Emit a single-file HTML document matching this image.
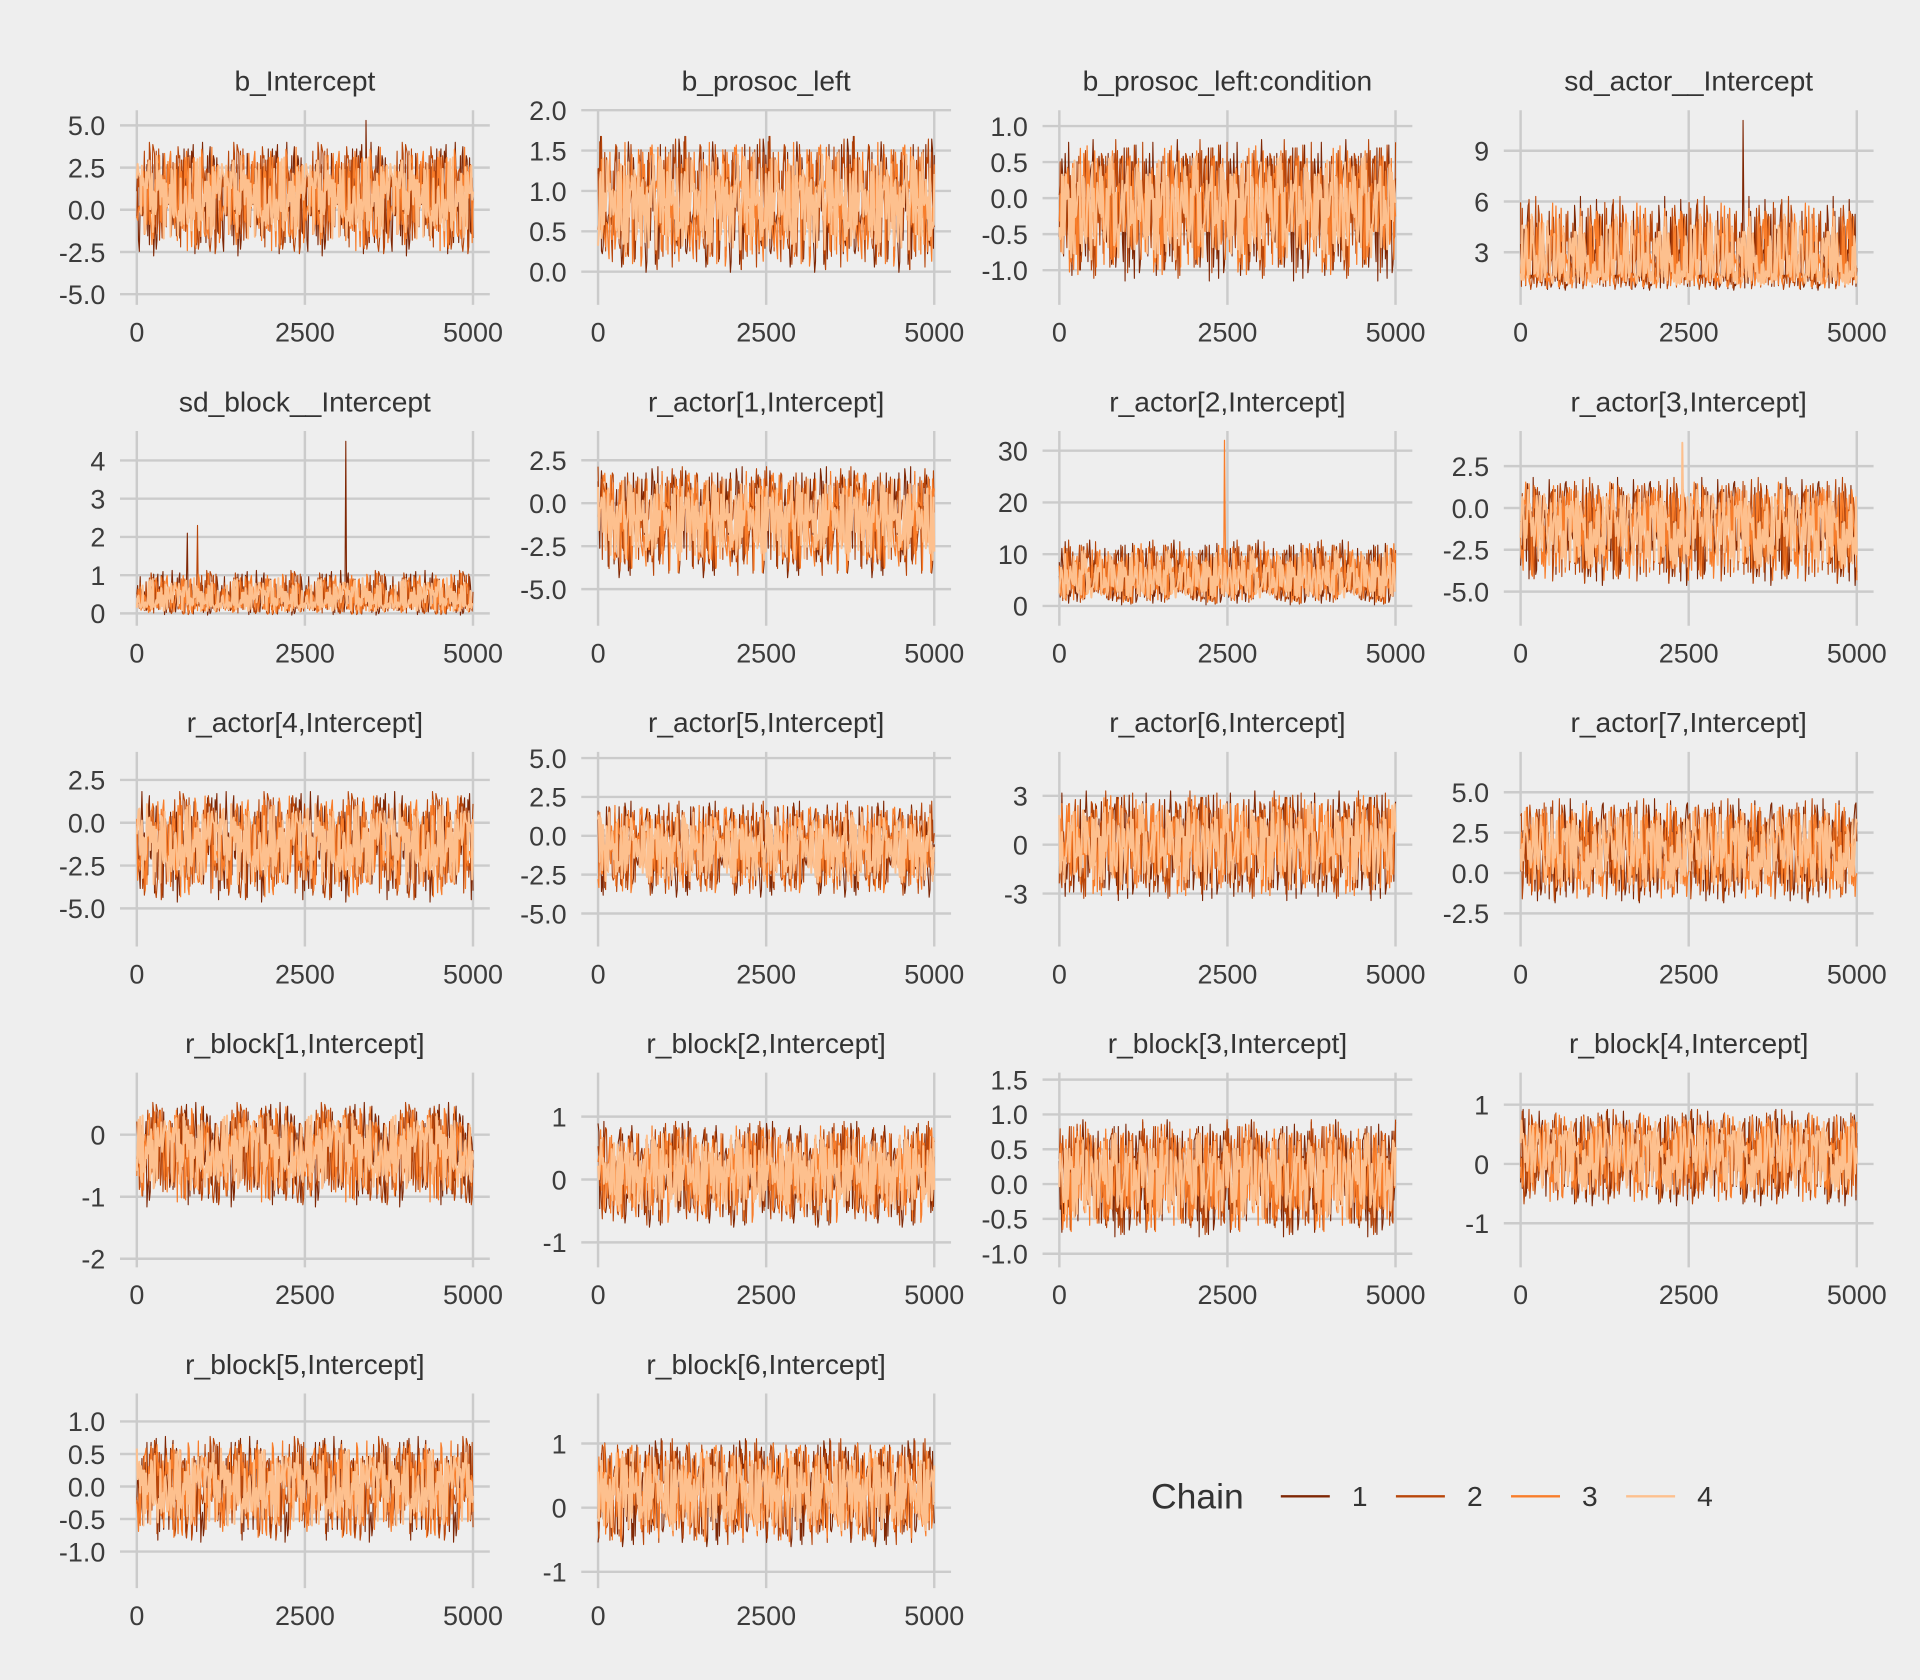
<!DOCTYPE html>
<html><head><meta charset="utf-8">
<style>
html,body{margin:0;padding:0;background:#eeeeee;}
svg{display:block;font-family:"Liberation Sans",Arial,sans-serif;}
</style></head>
<body>
<svg id="chart" width="1920" height="1680" viewBox="0 0 1568 1372" xmlns="http://www.w3.org/2000/svg">
<rect x="0" y="0" width="1568" height="1372" fill="#eeeeee"/>
<g id="panels"></g>
<g id="legend">
<text x="940" y="1232" font-size="29" fill="#333">Chain</text>
<line x1="1046" y1="1222" x2="1086" y2="1222" stroke="#7f2704" stroke-width="2"/>
<text x="1104" y="1230" font-size="23" fill="#333">1</text>
<line x1="1140" y1="1222" x2="1180" y2="1222" stroke="#b8460a" stroke-width="2"/>
<text x="1198" y="1230" font-size="23" fill="#333">2</text>
<line x1="1234" y1="1222" x2="1274" y2="1222" stroke="#f87d2a" stroke-width="2"/>
<text x="1292" y="1230" font-size="23" fill="#333">3</text>
<line x1="1328" y1="1222" x2="1368" y2="1222" stroke="#fdc08e" stroke-width="2"/>
<text x="1386" y="1230" font-size="23" fill="#333">4</text>
</g>
</svg>
<script>
const parameters = ["b_Intercept","b_prosoc_left","b_prosoc_left:condition","sd_actor__Intercept","sd_block__Intercept","r_actor[1,Intercept]","r_actor[2,Intercept]","r_actor[3,Intercept]","r_actor[4,Intercept]","r_actor[5,Intercept]","r_actor[6,Intercept]","r_actor[7,Intercept]","r_block[1,Intercept]","r_block[2,Intercept]","r_block[3,Intercept]","r_block[4,Intercept]","r_block[5,Intercept]","r_block[6,Intercept]"];
const yDomains = [[-5.2,5.9],[-0.32,2.0],[-1.38,1.22],[0.32,11.4],[-0.13,4.77],[-6.7,4.2],[-2.4,33.8],[-6.6,4.6],[-6.8,4.14],[-6.65,5.4],[-5.8,5.7],[-4.1,7.5],[-2.02,1.0],[-1.28,1.7],[-1.09,1.6],[-1.62,1.54],[-1.45,1.43],[-1.14,1.78]];
const yTicks = [[-5,-2.5,0,2.5,5],[0,0.5,1,1.5,2],[-1,-0.5,0,0.5,1],[3,6,9],[0,1,2,3,4],[-5,-2.5,0,2.5],[0,10,20,30],[-5,-2.5,0,2.5],[-5,-2.5,0,2.5],[-5,-2.5,0,2.5,5],[-3,0,3],[-2.5,0,2.5,5],[-2,-1,0],[-1,0,1],[-1,-0.5,0,0.5,1,1.5],[-1,0,1],[-1,-0.5,0,0.5,1],[-1,0,1]];
const yTickLabels = [["-5.0","-2.5","0.0","2.5","5.0"],["0.0","0.5","1.0","1.5","2.0"],["-1.0","-0.5","0.0","0.5","1.0"],["3","6","9"],["0","1","2","3","4"],["-5.0","-2.5","0.0","2.5"],["0","10","20","30"],["-5.0","-2.5","0.0","2.5"],["-5.0","-2.5","0.0","2.5"],["-5.0","-2.5","0.0","2.5","5.0"],["-3","0","3"],["-2.5","0.0","2.5","5.0"],["-2","-1","0"],["-1","0","1"],["-1.0","-0.5","0.0","0.5","1.0","1.5"],["-1","0","1"],["-1.0","-0.5","0.0","0.5","1.0"],["-1","0","1"]];
const xTicks = [0,2500,5000];
const xTickLabels = ["0","2500","5000"];
const centers = [0.7,0.85,-0.15,1.9,0.3,-0.9,4.5,-1.2,-1.2,-0.8,0,1.3,-0.25,0.1,0.1,0.15,0,0.25];
const spreadLow = [1.2,0.3,0.35,0.4,0.12,1.2,1.5,1.2,1.2,1.1,1.2,1.1,0.32,0.3,0.3,0.3,0.3,0.3];
const spreadHigh = [1.2,0.3,0.35,1.6,0.3,1.1,3.0,1.1,1.1,1.1,1.2,1.2,0.28,0.3,0.3,0.28,0.28,0.3];
const chainScale = [1.1,1.1,1.0,0.8];
const chain1 = [0.3,-1.2,1.8,-0.4,0.9,-2.1,0.2,1.4,-0.8,2.3,-1.5,0.6,-0.1,1.1,-1.9,0.8,-0.6,2.0,-1.1,0.4,1.6,-2.4,0.1,-0.7,1.3,-1.3,0.5,2.2,-0.3,-1.7,1.0,0.0,-2.0,1.5,-0.9,0.7,-1.4,1.9,-0.2,0.9,-2.6,1.2,0.3,-1.0,1.7,-0.5,2.5,-1.6,0.2,-0.8,1.4,-2.2,0.6,1.0,-1.2,2.1,-0.4,-1.8,0.8,1.3,-0.6,-2.3,1.6,0.1,-1.1,1.8,-0.3,0.5,-1.9,2.4,-0.7,1.1,-1.5,0.4,-2.0,1.7,0.2,-0.9,1.2,-1.6,2.0,-0.1,0.7,-2.5,1.5,-0.4,0.9,-1.3,1.9,-0.8,0.3,-1.7,2.2,-0.2,1.0,-1.4,0.6,-2.1,1.3,-0.5];
const chain2 = [-0.6,1.5,-1.9,0.4,2.1,-0.9,-0.2,1.2,-2.3,0.8,1.7,-1.1,0.3,-0.5,2.4,-1.6,0.9,-0.3,1.3,-2.0,0.6,-1.2,1.9,0.1,-0.8,2.2,-1.4,0.5,-2.5,1.0,0.2,-1.0,1.6,-0.4,0.7,-1.8,2.0,-0.1,1.1,-2.2,0.4,1.4,-0.7,-1.5,2.3,-0.2,0.8,-1.3,1.7,-0.6,0.0,-2.1,1.2,0.5,-0.9,1.8,-1.7,0.3,2.1,-1.0,-0.4,1.5,-2.4,0.9,0.2,-1.2,1.9,-0.5,1.0,-1.6,2.5,-0.8,0.6,-1.9,1.3,-0.3,0.7,-2.2,1.6,0.1,-1.1,2.0,-0.6,0.4,-1.4,1.1,-2.0,0.8,1.7,-0.2,-1.3,2.2,-0.7,0.5,-1.8,1.4,0.3,-1.0,1.9,-0.4];
const chain3 = [1.1,-0.4,-1.7,2.0,0.5,-1.3,1.6,-2.2,0.8,0.1,-0.9,2.4,-1.5,0.6,1.3,-2.0,-0.2,1.9,-0.7,0.9,-2.5,1.4,0.3,-1.1,2.1,-0.6,0.7,-1.8,1.2,-0.3,2.3,-1.4,0.0,1.0,-2.1,1.7,-0.5,0.4,-1.6,2.2,-0.8,1.1,-1.2,0.6,-2.3,1.5,0.2,-0.9,1.8,-0.4,-1.7,2.0,0.9,-1.0,0.3,-2.4,1.3,-0.1,1.6,-1.5,0.5,2.1,-0.7,-1.9,1.0,0.4,-1.3,2.5,-0.6,0.8,-2.0,1.2,-0.2,1.7,-1.1,0.1,-1.8,2.3,-0.5,0.6,-1.4,1.9,-0.9,0.2,-2.2,1.4,0.7,-1.2,1.1,-0.3,-2.6,1.8,0.4,-0.8,2.0,-1.5,0.9,-0.1,-1.9,1.3];
const chain4 = [-1.0,0.7,1.6,-1.8,0.2,2.2,-0.6,-1.3,1.4,-0.2,0.9,-2.4,1.8,0.4,-1.1,1.2,-1.7,2.0,-0.3,0.6,-2.0,1.5,-0.8,2.6,-1.4,0.1,1.0,-0.5,-2.2,1.7,0.3,-1.2,2.1,-0.7,0.8,-1.6,1.3,-0.1,-2.1,2.4,0.5,-0.9,1.1,-1.9,0.0,1.9,-1.0,0.7,-2.3,1.6,-0.4,1.2,-1.5,2.2,-0.6,0.4,-1.8,1.0,0.2,-2.5,1.5,-0.3,0.9,-1.2,2.0,-0.8,1.4,-1.6,0.6,-0.2,2.3,-1.3,0.3,-2.0,1.7,-0.5,1.1,-1.1,0.8,-1.9,2.1,-0.1,-1.4,1.3,0.5,-2.2,1.8,-0.7,0.2,-1.0,2.5,-0.4,1.0,-1.7,0.7,-2.4,1.6,-0.6,0.4,1.2];
const chains = [chain1, chain2, chain3, chain4];
const chainColors = ["#7f2704","#b8460a","#f87d2a","#fdc08e"];
const chainWidths = [0.9,0.9,1.0,1.6];
const spikePanels = [4,4,4,6,3,0,7];
const spikeChains = [0,1,0,2,0,0,3];
const spikeIndex = [62,18,15,49,66,68,48];
const spikeValues = [4.5,2.3,2.1,32,10.8,5.3,3.9];

const NS = "http://www.w3.org/2000/svg";
const root = document.getElementById('panels');
function mk(tag, attrs, parent){
  const e = document.createElementNS(NS, tag);
  for (const k in attrs) e.setAttribute(k, attrs[k]);
  parent.appendChild(e);
  return e;
}
const PW = 302, PH = 153, REPS = 4, STRIDES = [7,11,13,17];
parameters.forEach((name, p) => {
  const col = p % 4, row = Math.floor(p / 4);
  const left = 98 + col * 376.7, top = 90 + row * 262;
  const g = mk('g', {}, root);
  
  
  const dom = yDomains[p];
  const xs = v => left + PW * (v + 250) / 5500;
  const ys = v => top + PH * (dom[1] - v) / (dom[1] - dom[0]);
  yTicks[p].forEach((t, i) => {
    const ln = mk('line', {x1:left, x2:left+PW, y1:ys(t), y2:ys(t), stroke:'#cbcbcb', 'stroke-width':2}, g);
    
    
    const tx = mk('text', {x:left-12, y:ys(t)+8, 'text-anchor':'end', 'font-size':22, fill:'#3c3c3c'}, g);
    
    
    tx.textContent = yTickLabels[p][i];
  });
  xTicks.forEach((t, i) => {
    const ln = mk('line', {x1:xs(t), x2:xs(t), y1:top, y2:top+PH+6, stroke:'#cbcbcb', 'stroke-width':2}, g);
    
    
    const tx = mk('text', {x:xs(t), y:top+PH+36, 'text-anchor':'middle', 'font-size':22, fill:'#3c3c3c'}, g);
    
    
    tx.textContent = xTickLabels[i];
  });
  const title = mk('text', {x:left+PW/2, y:top-16, 'text-anchor':'middle', 'font-size':23, fill:'#333'}, g);
  
  
  title.textContent = name;
  chains.forEach((noise, c) => {
    const n = noise.length;
    const N = n * REPS;
    const off = (p * 13 + c * 5) % n;
    const pts = [];
    for (let j = 0; j < N; j++) {
      const z = noise[(j * STRIDES[(c + p) % 4] + off) % n] * chainScale[c];
      let v = centers[p] + z * (z < 0 ? spreadLow[p] : spreadHigh[p]);
      for (let s = 0; s < spikePanels.length; s++)
        if (spikePanels[s] === p && spikeChains[s] === c && spikeIndex[s] * REPS === j) v = spikeValues[s];
      const it = j * 5000 / (N - 1);
      pts.push(xs(it).toFixed(1) + ',' + ys(v).toFixed(1));
    }
    const pl = mk('polyline', {points:pts.join(' '), fill:'none', stroke:chainColors[c], 'stroke-width':chainWidths[c], 'stroke-linejoin':'round'}, g);
    
    
  });
});
</script>
</body></html>
